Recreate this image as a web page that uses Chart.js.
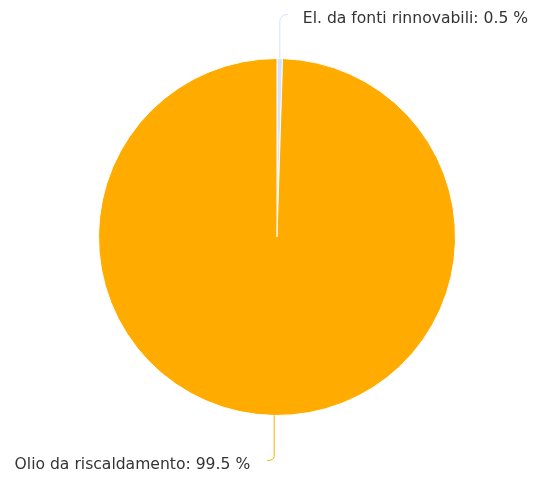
<!DOCTYPE html>
<html>
<head>
    <title>Pie</title>
    <script src="https://cdn.jsdelivr.net/npm/chart.js"></script>
    <style>
        html, body { margin: 0; padding: 0; background: #fff; }
        #wrap { width: 534px; height: 477px; }
    </style>
</head>
<body>
    <div id="wrap"><canvas id="myChart" width="534" height="477"></canvas></div>

    <script>
        const labels = ['El. da fonti rinnovabili', 'Olio da riscaldamento'];
        const shares = [0.5, 99.5];
        const colors = ['#d9e1fc', '#ffab00'];

        // labels outside the pie with a bent connector line
        const outsideLabels = {
            id: 'outsideLabels',
            afterDatasetsDraw(chart) {
                const ctx = chart.ctx;
                const meta = chart.getDatasetMeta(0);
                meta.data.forEach((arc, i) => {
                    const p = arc.getProps(['x', 'y', 'startAngle', 'endAngle', 'outerRadius'], true);
                    const mid = (p.startAngle + p.endAngle) / 2;
                    const ex = p.x + Math.cos(mid) * p.outerRadius;
                    const ey = p.y + Math.sin(mid) * p.outerRadius;
                    const right = Math.cos(mid) >= 0;
                    const up = Math.sin(mid) < 0;
                    const ly = up ? ey - 44 : ey + 45;
                    const bend = right ? 8 : -7;
                    ctx.save();
                    ctx.strokeStyle = colors[i];
                    ctx.lineWidth = 1;
                    ctx.beginPath();
                    ctx.moveTo(ex, ey);
                    ctx.lineTo(ex, up ? ly + 7 : ly - 4);
                    ctx.quadraticCurveTo(ex, ly, ex + bend, ly);
                    ctx.stroke();
                    ctx.fillStyle = '#333333';
                    ctx.font = '15.6px "DejaVu Sans", sans-serif';
                    ctx.textBaseline = 'middle';
                    ctx.textAlign = right ? 'left' : 'right';
                    const tx = right ? ex + 23 : ex - 24;
                    ctx.fillText(labels[i] + ': ' + shares[i] + ' %', tx, ly + 4);
                    ctx.restore();
                });
            }
        };

        const ctx = document.getElementById('myChart').getContext('2d');
        const chart = new Chart(ctx, {
            type: 'pie',
            data: {
                labels: labels,
                datasets: [{
                    data: shares,
                    backgroundColor: colors,
                    borderColor: '#ffffff',
                    borderWidth: 1
                }]
            },
            options: {
                responsive: false,
                animation: false,
                layout: { padding: { top: 58, bottom: 61, left: 98, right: 78 } },
                plugins: {
                    legend: { display: false },
                    tooltip: { enabled: false }
                }
            },
            plugins: [outsideLabels]
        });
    </script>
</body>
</html>
